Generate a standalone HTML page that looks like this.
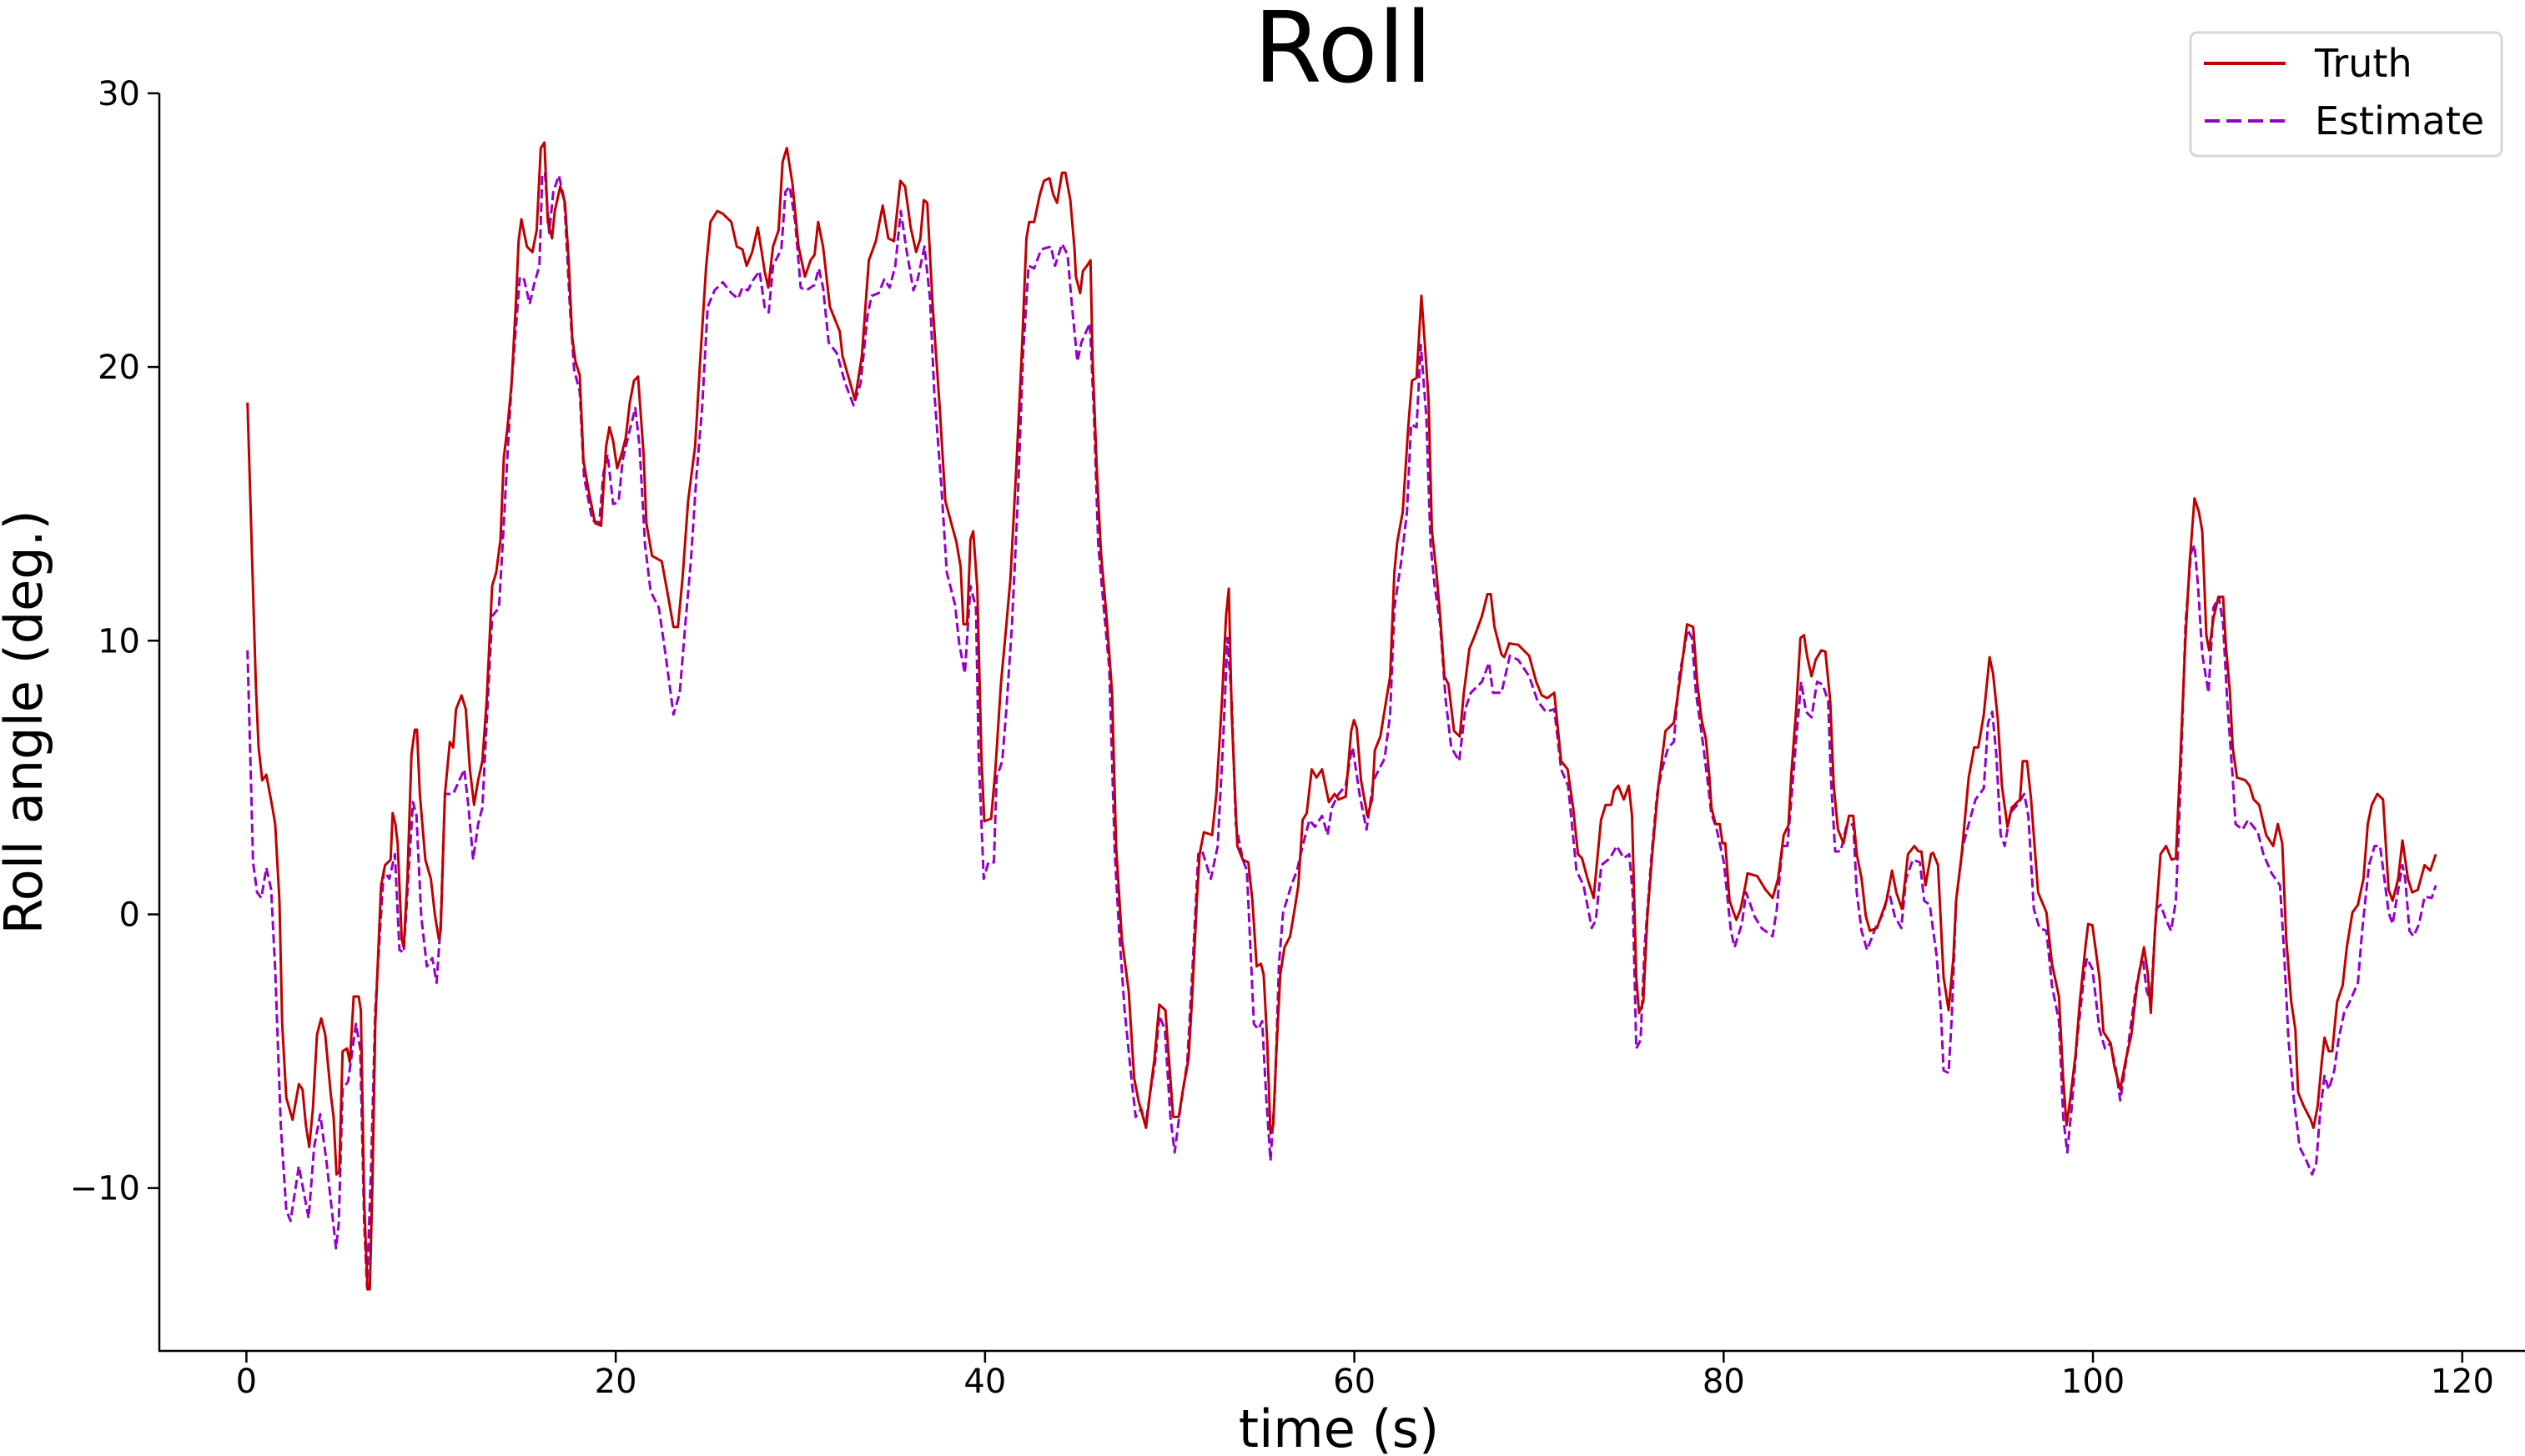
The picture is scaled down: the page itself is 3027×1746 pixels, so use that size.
<!DOCTYPE html>
<html><head><meta charset="utf-8"><style>
html,body{margin:0;padding:0;background:#fff;}
svg{display:block;font-family:"DejaVu Sans","Liberation Sans",sans-serif;}
</style></head><body>
<svg id="chart" width="3027" height="1746" viewBox="0 0 3027 1746" xmlns="http://www.w3.org/2000/svg">
<text x="1610" y="98" font-size="118" text-anchor="middle">Roll</text>
<g id="axes"></g>
<g id="series"></g>
<g>
<rect x="2626" y="39" width="373" height="148" rx="8" fill="#fff" stroke="#d6d6d6" stroke-width="3"/>
<line x1="2642" y1="76" x2="2740" y2="76" stroke="#c00000" stroke-width="4"/>
<text x="2775" y="92" font-size="46">Truth</text>
<line x1="2643" y1="145" x2="2740" y2="145" stroke="#9400c8" stroke-width="4" stroke-dasharray="18,8"/>
<text x="2775" y="161" font-size="46">Estimate</text>
</g>
</svg>
<script>
const xTicks=[0,20,40,60,80,100,120];
const yTicks=[-10,0,10,20,30];
const truthT=[0.06,0.51,0.66,0.86,1.08,1.41,1.56,1.79,1.94,2.16,2.5,2.84,3.04,3.22,3.4,3.6,3.82,4.05,4.27,4.57,4.72,4.88,5.03,5.21,5.45,5.6,5.81,6.08,6.2,6.38,6.56,6.68,6.83,6.98,7.29,7.51,7.81,7.92,8.07,8.19,8.41,8.52,8.72,8.94,9.12,9.24,9.39,9.69,9.99,10.22,10.42,10.52,10.75,11.02,11.2,11.35,11.65,11.88,12.1,12.33,12.55,12.78,13.01,13.31,13.53,13.76,13.94,14.14,14.36,14.59,14.74,14.89,15.19,15.49,15.72,15.94,16.14,16.32,16.55,16.7,17.0,17.25,17.45,17.64,17.82,18.05,18.25,18.5,18.88,19.21,19.48,19.66,19.86,20.08,
20.31,20.54,20.76,20.99,21.21,21.51,21.66,21.97,22.49,22.79,23.13,23.37,23.62,23.92,24.3,24.57,24.9,25.13,25.5,25.8,26.26,26.56,26.86,27.09,27.39,27.69,27.91,28.06,28.26,28.52,28.82,29.04,29.27,29.57,29.9,30.25,30.55,30.77,30.96,31.23,31.6,32.13,32.28,32.66,32.96,33.33,33.71,34.09,34.46,34.76,35.07,35.41,35.67,35.97,36.27,36.5,36.68,36.87,37.17,37.55,37.85,38.45,38.68,38.83,39.03,39.21,39.36,39.58,39.81,39.96,
40.33,40.56,40.86,41.16,41.38,41.69,41.99,42.24,42.39,42.66,42.97,43.19,43.49,43.69,43.9,44.17,44.35,44.62,44.85,44.92,45.15,45.3,45.52,45.71,45.83,46.05,46.28,46.58,46.88,47.1,47.41,47.78,48.08,48.31,48.72,48.96,49.17,49.44,49.77,50.19,50.49,50.72,51.02,51.22,51.47,51.62,51.85,52.3,52.53,52.83,53.05,53.2,53.36,53.66,53.96,54.26,54.48,54.71,54.94,55.09,55.28,55.46,55.61,55.76,55.99,56.22,56.52,56.74,56.97,57.2,57.42,57.69,57.95,58.25,58.62,58.93,59.15,59.53,59.83,
59.98,60.13,60.36,60.71,60.96,61.11,61.41,61.72,61.94,62.17,62.32,62.62,62.92,63.12,63.37,63.63,63.82,64.02,64.2,64.43,64.65,64.88,65.1,65.4,65.71,65.93,66.23,66.53,66.91,67.21,67.39,67.59,67.97,68.12,68.39,68.87,69.47,69.85,70.15,70.45,70.83,71.2,71.55,71.85,72.11,72.33,72.63,72.96,73.36,73.61,73.91,74.06,74.29,74.59,74.86,75.04,75.27,75.42,75.65,75.87,76.17,76.47,76.85,77.3,77.68,78.02,78.35,78.58,78.81,79.04,79.23,79.34,79.56,
79.79,79.94,80.09,80.32,80.54,80.69,80.92,81.22,81.29,81.82,82.27,82.65,82.95,83.25,83.51,83.66,83.93,84.16,84.35,84.53,84.76,84.98,85.29,85.51,85.77,85.96,86.19,86.49,86.79,87.02,87.21,87.47,87.7,87.92,88.3,88.82,89.12,89.35,89.65,89.98,90.33,90.55,90.71,90.93,91.23,91.34,91.61,91.91,92.18,92.44,92.59,92.89,93.27,93.57,93.79,94.09,94.4,94.59,94.85,95.07,95.37,95.6,96.05,96.2,96.43,96.65,97.03,97.48,97.78,98.16,98.39,98.57,98.76,99.06,99.29,99.59,
99.74,99.97,100.35,100.57,100.95,101.17,101.48,101.78,102.08,102.38,102.76,102.98,103.13,103.36,103.66,103.96,104.26,104.49,104.71,105.01,105.24,105.5,105.74,105.92,106.14,106.29,106.52,106.79,107.05,107.2,107.42,107.57,107.8,108.25,108.48,108.7,109.0,109.38,109.76,110.01,110.25,110.47,110.74,110.96,111.11,111.41,111.79,111.94,112.17,112.39,112.54,112.77,112.96,113.22,113.52,113.75,114.05,114.35,114.65,114.88,115.1,115.4,115.71,116.01,116.23,116.53,116.76,117.06,117.29,117.59,117.96,118.27,118.57];
const truthV=[18.7,8.4,6.1,4.9,5.1,3.9,3.3,0.5,-4.0,-6.7,-7.5,-6.2,-6.4,-7.7,-8.5,-7.1,-4.4,-3.8,-4.4,-6.6,-7.4,-9.5,-9.4,-5.0,-4.9,-5.4,-3.0,-3.0,-3.5,-10.5,-13.7,-13.7,-9.7,-4.0,1.05,1.8,2.0,3.7,3.3,2.6,-0.9,-1.2,1.3,5.85,6.75,6.75,4.4,2.0,1.3,-0.07,-0.9,-0.6,4.4,6.3,6.1,7.5,8.0,7.5,5.3,4.0,4.9,5.6,7.8,12.0,12.5,13.7,16.7,17.8,19.4,22.3,24.6,25.4,24.4,24.2,25.0,28.0,28.2,25.3,24.7,25.7,26.6,26.0,23.9,21.1,20.2,19.7,16.6,15.6,14.3,14.2,17.1,17.8,17.3,16.3,
16.8,17.4,18.7,19.5,19.65,16.8,14.3,13.1,12.9,11.8,10.5,10.5,12.3,15.1,17.1,20.2,23.7,25.3,25.7,25.6,25.3,24.4,24.3,23.7,24.2,25.1,24.2,23.5,22.9,24.4,25.0,27.5,28.0,26.7,24.4,23.3,23.9,24.1,25.3,24.4,22.2,21.3,20.4,19.5,18.8,20.4,23.9,24.6,25.9,24.7,24.6,26.8,26.6,25.1,24.2,24.7,26.1,26.0,22.2,18.5,15.1,13.6,12.7,10.6,10.6,13.7,14.0,11.9,5.6,3.4,
3.5,5.3,8.4,10.6,12.3,16.3,20.5,24.7,25.3,25.3,26.3,26.8,26.9,26.3,26.0,27.1,27.1,26.1,24.3,23.3,22.7,23.5,23.7,23.9,20.2,16.3,13.2,10.9,8.1,2.5,-0.9,-2.8,-6.0,-6.8,-7.8,-6.4,-5.3,-3.3,-3.5,-7.4,-7.4,-6.4,-5.3,-3.0,0.5,2.2,3.0,2.9,4.4,7.8,10.9,11.9,7.3,2.5,2.0,1.9,0.5,-1.9,-1.8,-2.2,-4.6,-8.0,-7.7,-5.3,-2.2,-1.2,-0.8,0.07,1.06,3.45,3.7,5.3,5.0,5.3,4.1,4.4,4.2,4.3,6.7,
7.1,6.8,4.9,3.6,4.2,6.0,6.5,7.8,8.7,12.5,13.6,14.7,17.8,19.5,19.6,22.6,20.8,18.8,14.0,12.6,10.9,8.7,8.4,6.7,6.5,8.1,9.7,10.2,10.9,11.7,11.7,10.5,9.5,9.4,9.9,9.85,9.45,8.5,8.0,7.9,8.1,5.6,5.3,3.9,2.2,2.05,1.3,0.6,3.45,4.0,4.0,4.5,4.7,4.2,4.7,3.6,-2.3,-3.6,-3.2,-0.07,2.5,4.7,6.7,7.0,8.8,10.6,10.5,8.4,7.1,6.4,5.0,3.9,3.3,
3.3,2.6,2.6,0.5,0.07,-0.2,0.2,1.2,1.5,1.4,0.9,0.6,1.3,2.9,3.25,5.1,7.5,10.1,10.2,9.4,8.7,9.3,9.65,9.6,7.8,4.7,3.1,2.6,3.6,3.6,2.2,1.3,-0.07,-0.6,-0.5,0.5,1.6,0.8,0.2,2.2,2.5,2.3,2.3,1.06,2.2,2.25,1.8,-2.3,-3.5,-1.6,0.5,2.2,5.0,6.1,6.1,7.3,9.4,8.8,7.1,4.7,3.2,3.9,4.2,5.6,5.6,4.2,0.8,0.07,-1.8,-3.0,-6.0,-7.7,-6.8,-5.1,-3.2,-1.2,
-0.35,-0.4,-2.3,-4.3,-4.7,-5.6,-6.4,-5.3,-4.4,-2.6,-1.2,-2.2,-3.6,-0.6,2.2,2.5,2.0,2.05,5.3,10.1,12.9,15.2,14.7,14.0,10.2,9.65,10.8,11.6,11.6,9.8,8.1,6.1,5.0,4.9,4.7,4.2,4.0,2.9,2.5,3.3,2.6,-0.9,-3.2,-4.2,-6.5,-7.0,-7.5,-7.8,-7.0,-5.4,-4.5,-5.0,-5.0,-3.2,-2.6,-1.2,0.07,0.35,1.3,3.3,4.0,4.4,4.2,0.9,0.5,1.3,2.7,1.3,0.8,0.9,1.8,1.6,2.2];
const estT=[0.06,0.36,0.58,0.81,1.08,1.34,1.56,1.86,2.16,2.39,2.84,3.37,3.67,4.0,4.35,4.85,5.0,5.21,5.51,5.93,6.16,6.38,6.53,6.76,6.98,7.21,7.44,7.74,8.04,8.29,8.52,8.79,9.02,9.21,9.47,9.77,10.07,10.3,10.52,10.75,11.2,11.8,12.03,12.28,12.55,12.78,13.01,13.31,13.68,13.91,14.14,14.36,14.81,15.04,15.34,15.57,15.87,16.02,16.17,16.4,16.62,16.92,17.22,17.52,17.75,18.05,18.28,18.73,19.11,19.33,19.56,19.86,
19.93,20.16,20.38,20.69,21.06,21.29,21.59,21.89,22.34,22.72,23.13,23.47,23.77,24.07,24.37,24.68,24.98,25.35,25.8,26.26,26.63,26.86,27.16,27.46,27.79,28.06,28.29,28.52,28.97,29.19,29.42,29.72,30.02,30.32,30.77,31.0,31.23,31.53,31.98,32.43,32.88,33.26,33.64,33.86,34.24,34.54,34.84,35.14,35.44,35.74,36.12,36.35,36.72,37.02,37.25,37.63,37.93,38.38,38.6,38.91,39.21,39.51,39.66,39.93,
40.18,40.48,40.63,40.93,41.16,41.46,41.76,42.06,42.36,42.66,43.04,43.57,43.79,44.17,44.47,44.7,45.0,45.22,45.68,45.9,46.13,46.43,46.73,47.03,47.26,47.56,47.93,48.16,48.46,48.69,48.99,49.21,49.44,49.74,50.04,50.27,50.57,50.95,51.25,51.55,51.77,52.23,52.6,52.9,53.13,53.36,53.58,53.96,54.18,54.56,54.79,55.01,55.24,55.46,55.69,55.92,56.14,56.59,56.89,57.2,57.57,57.87,58.25,58.55,58.78,59.15,59.53,59.8,
59.91,60.28,60.66,61.04,61.64,61.94,62.17,62.54,62.85,63.07,63.37,63.6,63.9,64.13,64.35,64.65,64.95,65.25,65.68,66.01,66.31,66.91,67.29,67.51,67.97,68.42,68.87,69.47,69.92,70.37,70.83,71.2,71.58,72.03,72.41,72.86,73.08,73.38,73.84,74.21,74.59,74.89,75.07,75.27,75.5,75.72,76.1,76.4,76.7,77.0,77.3,77.6,78.05,78.28,78.5,78.81,79.11,79.33,79.63,
80.01,80.39,80.59,80.99,81.22,81.67,82.05,82.65,82.88,83.18,83.45,83.63,83.93,84.2,84.46,84.76,85.06,85.36,85.66,85.81,86.04,86.34,86.64,87.02,87.21,87.47,87.77,88.22,88.67,88.93,89.27,89.62,89.88,90.25,90.63,90.86,91.16,91.53,91.76,91.91,92.18,92.36,92.59,92.96,93.27,93.64,94.09,94.32,94.55,94.77,95.0,95.22,95.52,95.9,96.28,96.5,96.8,97.1,97.48,97.78,98.16,98.39,98.61,98.84,99.14,99.56,
99.67,99.97,100.35,100.65,100.95,101.25,101.48,101.85,102.3,102.68,102.91,103.13,103.43,103.66,103.96,104.23,104.49,104.71,105.01,105.31,105.5,105.69,105.92,106.26,106.52,106.82,107.05,107.27,107.57,107.72,108.1,108.4,108.93,109.23,109.68,110.13,110.36,110.59,110.89,111.19,111.56,111.87,112.09,112.32,112.54,112.77,113.07,113.29,113.6,113.9,114.35,114.58,114.95,115.25,115.55,115.78,116.01,116.23,116.53,116.76,116.91,117.14,117.36,117.66,117.96,118.34,118.57];
const estV=[9.65,1.9,0.8,0.6,1.7,0.9,-2.0,-7.7,-10.8,-11.2,-9.2,-11.1,-8.5,-7.3,-9.1,-12.2,-11.3,-6.4,-6.1,-4.0,-4.9,-11.3,-13.6,-9.1,-3.5,-0.9,1.6,1.3,2.2,-1.3,-1.4,1.6,4.1,3.6,-0.07,-1.9,-1.6,-2.5,-0.35,4.4,4.4,5.3,3.9,2.0,3.3,3.9,7.0,10.9,11.2,13.9,16.8,19.4,23.3,23.2,22.3,23.0,23.7,27.0,27.1,24.9,26.4,27.0,26.1,22.2,19.9,19.1,16.0,14.4,14.3,16.1,16.8,15.0,
15.0,15.1,16.6,17.5,18.5,17.1,13.5,11.8,11.2,9.4,7.3,8.1,10.6,12.9,16.0,18.5,22.2,22.8,23.1,22.7,22.5,22.9,22.8,23.2,23.5,22.2,22.0,23.7,24.3,26.4,26.6,25.3,22.9,22.8,23.0,23.6,22.9,20.9,20.5,19.4,18.6,19.4,21.9,22.6,22.7,23.2,22.9,23.7,25.7,24.3,22.8,23.2,24.4,22.5,19.1,15.7,12.5,11.3,9.9,8.8,12.0,11.2,5.8,1.3,
1.9,1.9,5.0,5.6,7.5,10.6,14.9,20.5,23.7,23.6,24.3,24.4,23.7,24.5,24.1,22.3,20.2,20.9,21.6,18.2,13.5,11.2,9.0,2.2,-0.6,-3.5,-6.0,-7.4,-7.1,-7.7,-6.3,-5.4,-3.7,-4.2,-7.4,-8.7,-7.1,-5.4,-1.8,2.2,2.3,1.3,2.5,6.4,10.1,7.8,3.3,2.0,1.6,-4.0,-4.2,-3.9,-6.8,-9.0,-6.6,-1.8,0.07,1.06,1.6,2.5,3.45,3.2,3.6,2.9,3.9,4.4,4.7,5.8,
6.1,4.4,3.1,4.9,5.7,7.3,11.2,12.9,14.7,17.9,17.8,20.8,18.2,13.5,12.0,10.6,7.8,6.1,5.6,7.5,8.1,8.5,9.2,8.1,8.1,9.45,9.3,8.7,7.8,7.4,7.5,5.3,4.7,1.6,1.06,-0.5,-0.2,1.8,2.05,2.5,2.05,2.2,0.8,-4.9,-4.6,-1.2,2.2,4.4,5.4,6.1,6.3,8.7,10.4,10.1,8.1,6.6,5.0,3.7,3.1,
1.9,-0.6,-1.2,-0.35,0.8,-0.07,-0.5,-0.8,0.2,2.5,2.5,3.9,6.4,8.5,7.4,7.2,8.5,8.4,7.8,5.0,2.3,2.3,3.2,3.3,0.8,-0.6,-1.3,-0.5,0.07,0.9,-0.07,-0.5,1.3,2.0,1.9,0.5,0.35,-1.5,-3.5,-5.7,-5.8,-3.7,0.5,2.5,3.3,4.2,4.6,7.0,7.4,5.8,2.9,2.5,3.7,4.0,4.4,3.6,0.2,-0.5,-0.6,-2.6,-3.9,-7.4,-8.7,-7.1,-4.6,-2.0,
-1.6,-2.0,-4.2,-4.9,-4.7,-5.7,-6.8,-5.1,-2.8,-1.5,-2.8,-3.2,0.2,0.35,-0.2,-0.6,0.5,4.2,10.6,13.2,13.5,12.0,9.5,8.1,11.2,11.6,10.6,7.8,5.0,3.3,3.1,3.45,3.0,2.2,1.5,1.06,-1.5,-4.6,-6.8,-8.5,-9.0,-9.5,-9.1,-7.1,-5.9,-6.4,-5.7,-4.6,-3.6,-3.2,-2.5,-0.6,1.8,2.5,2.5,1.3,0.07,-0.35,0.9,1.8,1.3,-0.6,-0.8,-0.35,0.65,0.6,1.06];
const NS="http://www.w3.org/2000/svg";
function X(t){return 295.4+(t/120)*(2951.8-295.4);}
function Y(v){return 1096.5-(v/10)*328.2;}
function mk(tag,attrs,parent){const e=document.createElementNS(NS,tag);for(const k in attrs)e.setAttribute(k,attrs[k]);parent.appendChild(e);return e;}
const axes=document.getElementById('axes');
let sp=mk('line',{x1:191,y1:112,x2:191,y2:1620,stroke:'#000','stroke-width':2.5},axes);


let sb=mk('line',{x1:190,y1:1620,x2:3027,y2:1620,stroke:'#000','stroke-width':2.5},axes);


xTicks.forEach(t=>{
 const tk=mk('line',{x1:X(t),y1:1620,x2:X(t),y2:1634,stroke:'#000','stroke-width':2.5},axes);
 
 
 const lb=mk('text',{x:X(t),y:1670,'font-size':40,'text-anchor':'middle'},axes);
 
 
 lb.textContent=String(t);
});
yTicks.forEach(v=>{
 const tk=mk('line',{x1:177,y1:Y(v),x2:191,y2:Y(v),stroke:'#000','stroke-width':2.5},axes);
 
 
 const lb=mk('text',{x:168,y:Y(v)+14,'font-size':40,'text-anchor':'end'},axes);
 
 
 lb.textContent=v<0?'\u2212'+Math.abs(v):String(v);
});
const xt=mk('text',{x:1605,y:1735,'font-size':62,'text-anchor':'middle'},axes);


xt.textContent='time (s)';
const yt=mk('text',{x:0,y:0,'font-size':62,'text-anchor':'middle',transform:'translate(50,866) rotate(-90)'},axes);


yt.textContent='Roll angle (deg.)';
const ser=document.getElementById('series');
function path(ts,vs){const n=Math.min(ts.length,vs.length);let d='';for(let i=0;i<n;i++){d+=(i?'L':'M')+X(ts[i]).toFixed(1)+','+Y(vs[i]).toFixed(1);}return d;}
const pe=mk('path',{d:path(estT,estV),fill:'none',stroke:'#9400c8','stroke-width':3,'stroke-dasharray':'11,5','stroke-linejoin':'round'},ser);


const pt=mk('path',{d:path(truthT,truthV),fill:'none',stroke:'#c00000','stroke-width':3,'stroke-linejoin':'round'},ser);


</script>
</body></html>
